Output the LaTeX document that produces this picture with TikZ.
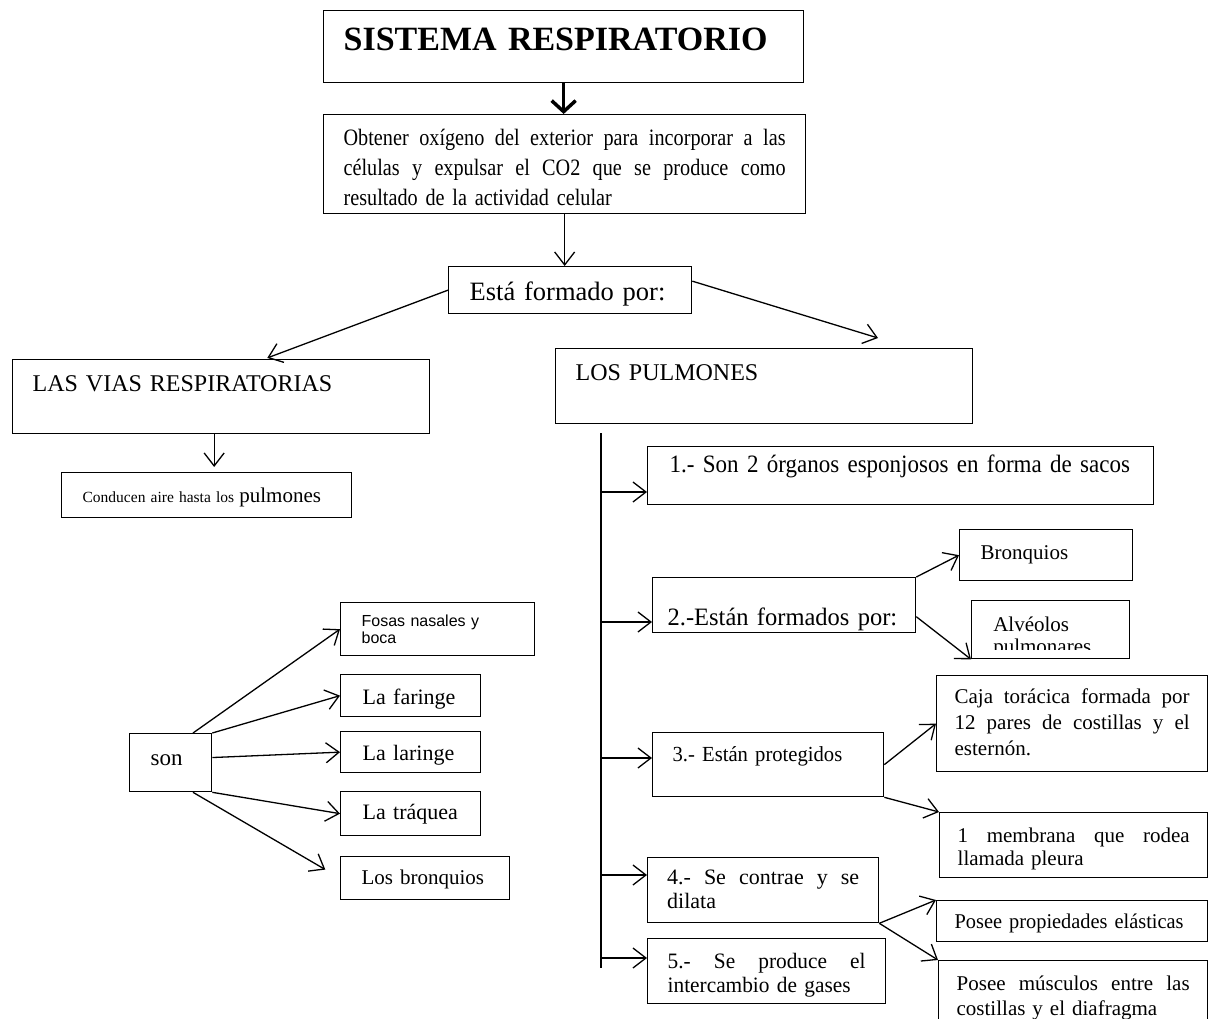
\documentclass[tikz,border=0pt]{standalone}
\usepackage{fontspec}
\setmainfont{Liberation Serif}
\newfontfamily\arialfont{Liberation Sans}
\usetikzlibrary{arrows.meta}

\hyphenpenalty=10000
\newcommand{\setfs}[2]{\fontsize{#1}{#2}\selectfont}
\newcommand{\narrow}[1]{\addfontfeature{FakeStretch=#1}}
\newcommand{\jline}[2]{\makebox[#1][s]{\spaceskip=\fontdimen2\font plus 1fil\relax#2}}

\tikzset{
  box/.style={draw, line width=1.3pt, anchor=north west, inner ysep=0pt, align=left},
  arr/.style={line width=1.3pt, -{Straight Barb[length=13pt,width=20pt]}},
  bigarr/.style={line width=3.5pt, -{Straight Barb[length=11pt,width=24pt]}}
}

\begin{document}
\begin{tikzpicture}[x=1pt, y=-1pt]
\useasboundingbox (0,0) rectangle (1209,1019);

\node[box, inner xsep=20pt, text width=440pt, text height=40pt, text depth=32pt, font=\setfs{34}{38}\bfseries] (title) at (323,10) {SISTEMA RESPIRATORIO};
\node[box, inner xsep=20pt, text width=442pt, text height=31pt, text depth=68pt, font=\setfs{23.5}{30}\narrow{0.86}] (obj) at (323,114) {\jline{442pt}{Obtener oxígeno del exterior para incorporar a las}\\\jline{442pt}{células y expulsar el CO2 que se produce como}\\resultado de la actividad celular};
\node[box, inner xsep=21pt, text width=201pt, text height=34pt, text depth=13pt, font=\setfs{26.5}{30}] (esta) at (448,266) {Está formado por:};

\draw[bigarr] (title.south) -- (title.south |- obj.north);
\draw[arr] (obj.south) -- (obj.south |- esta.north);

\node[box, inner xsep=20pt, text width=377pt, text height=32pt, text depth=42pt, font=\setfs{24}{28}] (vias) at (12,359) {LAS VIAS RESPIRATORIAS};
\node[box, inner xsep=20pt, text width=377pt, text height=32pt, text depth=43pt, font=\setfs{24}{28}] (pulm) at (555,348) {LOS PULMONES};
\coordinate (topulm) at (878,338);

\draw[arr, shorten >=3pt] (esta.west) -- (vias.41);
\draw[arr] ([yshift=9pt]esta.east) -- (topulm);

\node[box, inner xsep=21pt, text width=248pt, text height=30pt, text depth=15pt, font=\setfs{15.5}{20}] (cond) at (61,472) {Conducen aire hasta los {\setfs{21}{24}pulmones}};
\draw[arr, shorten >=5pt] ([xshift=-7pt]vias.south) -- ([xshift=-7pt]vias.south |- cond.north);

\node[box, inner xsep=21pt, text width=40pt, text height=32pt, text depth=26pt, font=\setfs{23}{26}] (son) at (129,733) {son};
\node[box, inner xsep=21pt, text width=152pt, text height=24pt, text depth=29pt, font=\arialfont\setfs{16}{17}] (fosas) at (340,602) {Fosas nasales y\\boca};
\node[box, inner xsep=22pt, text width=96pt, text height=30pt, text depth=12pt, font=\setfs{22}{24}] (far) at (340,674) {La faringe};
\node[box, inner xsep=22pt, text width=96pt, text height=29pt, text depth=12pt, font=\setfs{22}{24}] (lar) at (340,731) {La laringe};
\node[box, inner xsep=22pt, text width=96pt, text height=28pt, text depth=16pt, font=\setfs{22}{24}] (traq) at (340,791) {La tráquea};
\node[box, inner xsep=21pt, text width=127pt, text height=28pt, text depth=15pt, font=\setfs{21}{24}] (lbronq) at (340,856) {Los bronquios};

\draw[arr] (son.53) -- (fosas.west);
\draw[arr] (son.north east) -- (far.west);
\draw[arr] (son.7) -- (lar.west);
\draw[arr] (son.south east) -- (traq.west);
\draw[arr, shorten >=17pt] (son.-53) -- (lbronq.west);

\node[box, inner xsep=22pt, text width=462pt, text height=26pt, text depth=32pt, font=\setfs{25}{28}\narrow{0.92}] (i1) at (647,446) {1.- Son 2 órganos esponjosos en forma de sacos};
\node[box, inner xsep=15pt, text width=233pt, text height=48pt, text depth=7pt, font=\setfs{25}{28}\narrow{0.98}] (i2) at (652,577) {\mbox{2.-Están formados por:}};
\node[box, inner xsep=20pt, text width=191pt, text height=29pt, text depth=35pt, font=\setfs{21.5}{24}\narrow{0.96}] (i3) at (652,732) {3.- Están protegidos};
\node[box, inner xsep=19.5pt, text width=192pt, text height=27pt, text depth=38pt, font=\setfs{22}{24}] (i4) at (647,857) {\jline{192pt}{4.- Se contrae y se}\\dilata};
\node[box, inner xsep=20pt, text width=198pt, text height=30pt, text depth=35pt, font=\setfs{22}{24}\narrow{0.97}] (i5) at (647,938) {\jline{198pt}{5.- Se produce el}\\intercambio de gases};

\coordinate (spine) at (601,433);
\coordinate (spineend) at (601,968);
\draw[line width=1.3pt] (spine) -- (spineend);

\coordinate (s1) at (601,492);
\coordinate (s2) at (601,622);
\coordinate (s3) at (601,758);
\coordinate (s4) at (601,875);
\coordinate (s5) at (601,958);
\draw[arr] (s1) -- (s1 -| i1.west);
\draw[arr] (s2) -- (s2 -| i2.west);
\draw[arr] (s3) -- (s3 -| i3.west);
\draw[arr] (s4) -- (s4 -| i4.west);
\draw[arr] (s5) -- (s5 -| i5.west);

\node[box, inner xsep=21pt, text width=131pt, text height=30pt, text depth=21pt, font=\setfs{21}{24}] (bronq) at (959,529) {Bronquios};
\node[box, inner xsep=0pt, text width=158pt, text height=58pt, text depth=0pt,
  path picture={
    \clip (path picture bounding box.north west) rectangle ([yshift=9pt]path picture bounding box.south east);
    \node[anchor=north west, inner sep=0pt, text height=30pt, align=left, font=\setfs{21}{22}] (alvtext) at ([xshift=21pt]path picture bounding box.north west) {Alvéolos\\pulmonares};
  }] (alv) at (971,600) {};

\node[box, inner xsep=18pt, text width=235pt, text height=28pt, text depth=68pt, font=\setfs{21}{26}] (caja) at (936,675) {\jline{235pt}{Caja torácica formada por}\\\jline{235pt}{12 pares de costillas y el}\\esternón.};
\node[box, inner xsep=18pt, text width=232pt, text height=30pt, text depth=35pt, font=\setfs{21}{23}] (memb) at (939,812) {\jline{232pt}{1 membrana que rodea}\\llamada pleura};
\node[box, inner xsep=18pt, text width=235pt, text height=28pt, text depth=13pt, font=\setfs{21}{24}\narrow{0.97}] (elast) at (936,900) {Posee propiedades elásticas};
\node[box, inner xsep=18pt, text width=233pt, text height=30pt, text depth=60pt, font=\setfs{21}{25}] (musc) at (938,960) {\jline{233pt}{Posee músculos entre las}\\costillas y el diafragma};

\draw[arr] (i2.north east) -- (bronq.west);
\draw[arr] (i2.-5) -- (alv.south west);
\draw[arr] (i3.east) -- (caja.west);
\draw[arr] (i3.south east) -- (memb.north west);
\draw[arr] (i4.south east) -- (elast.north west);
\draw[arr] (i4.south east) -- (musc.north west);

\end{tikzpicture}
\end{document}
